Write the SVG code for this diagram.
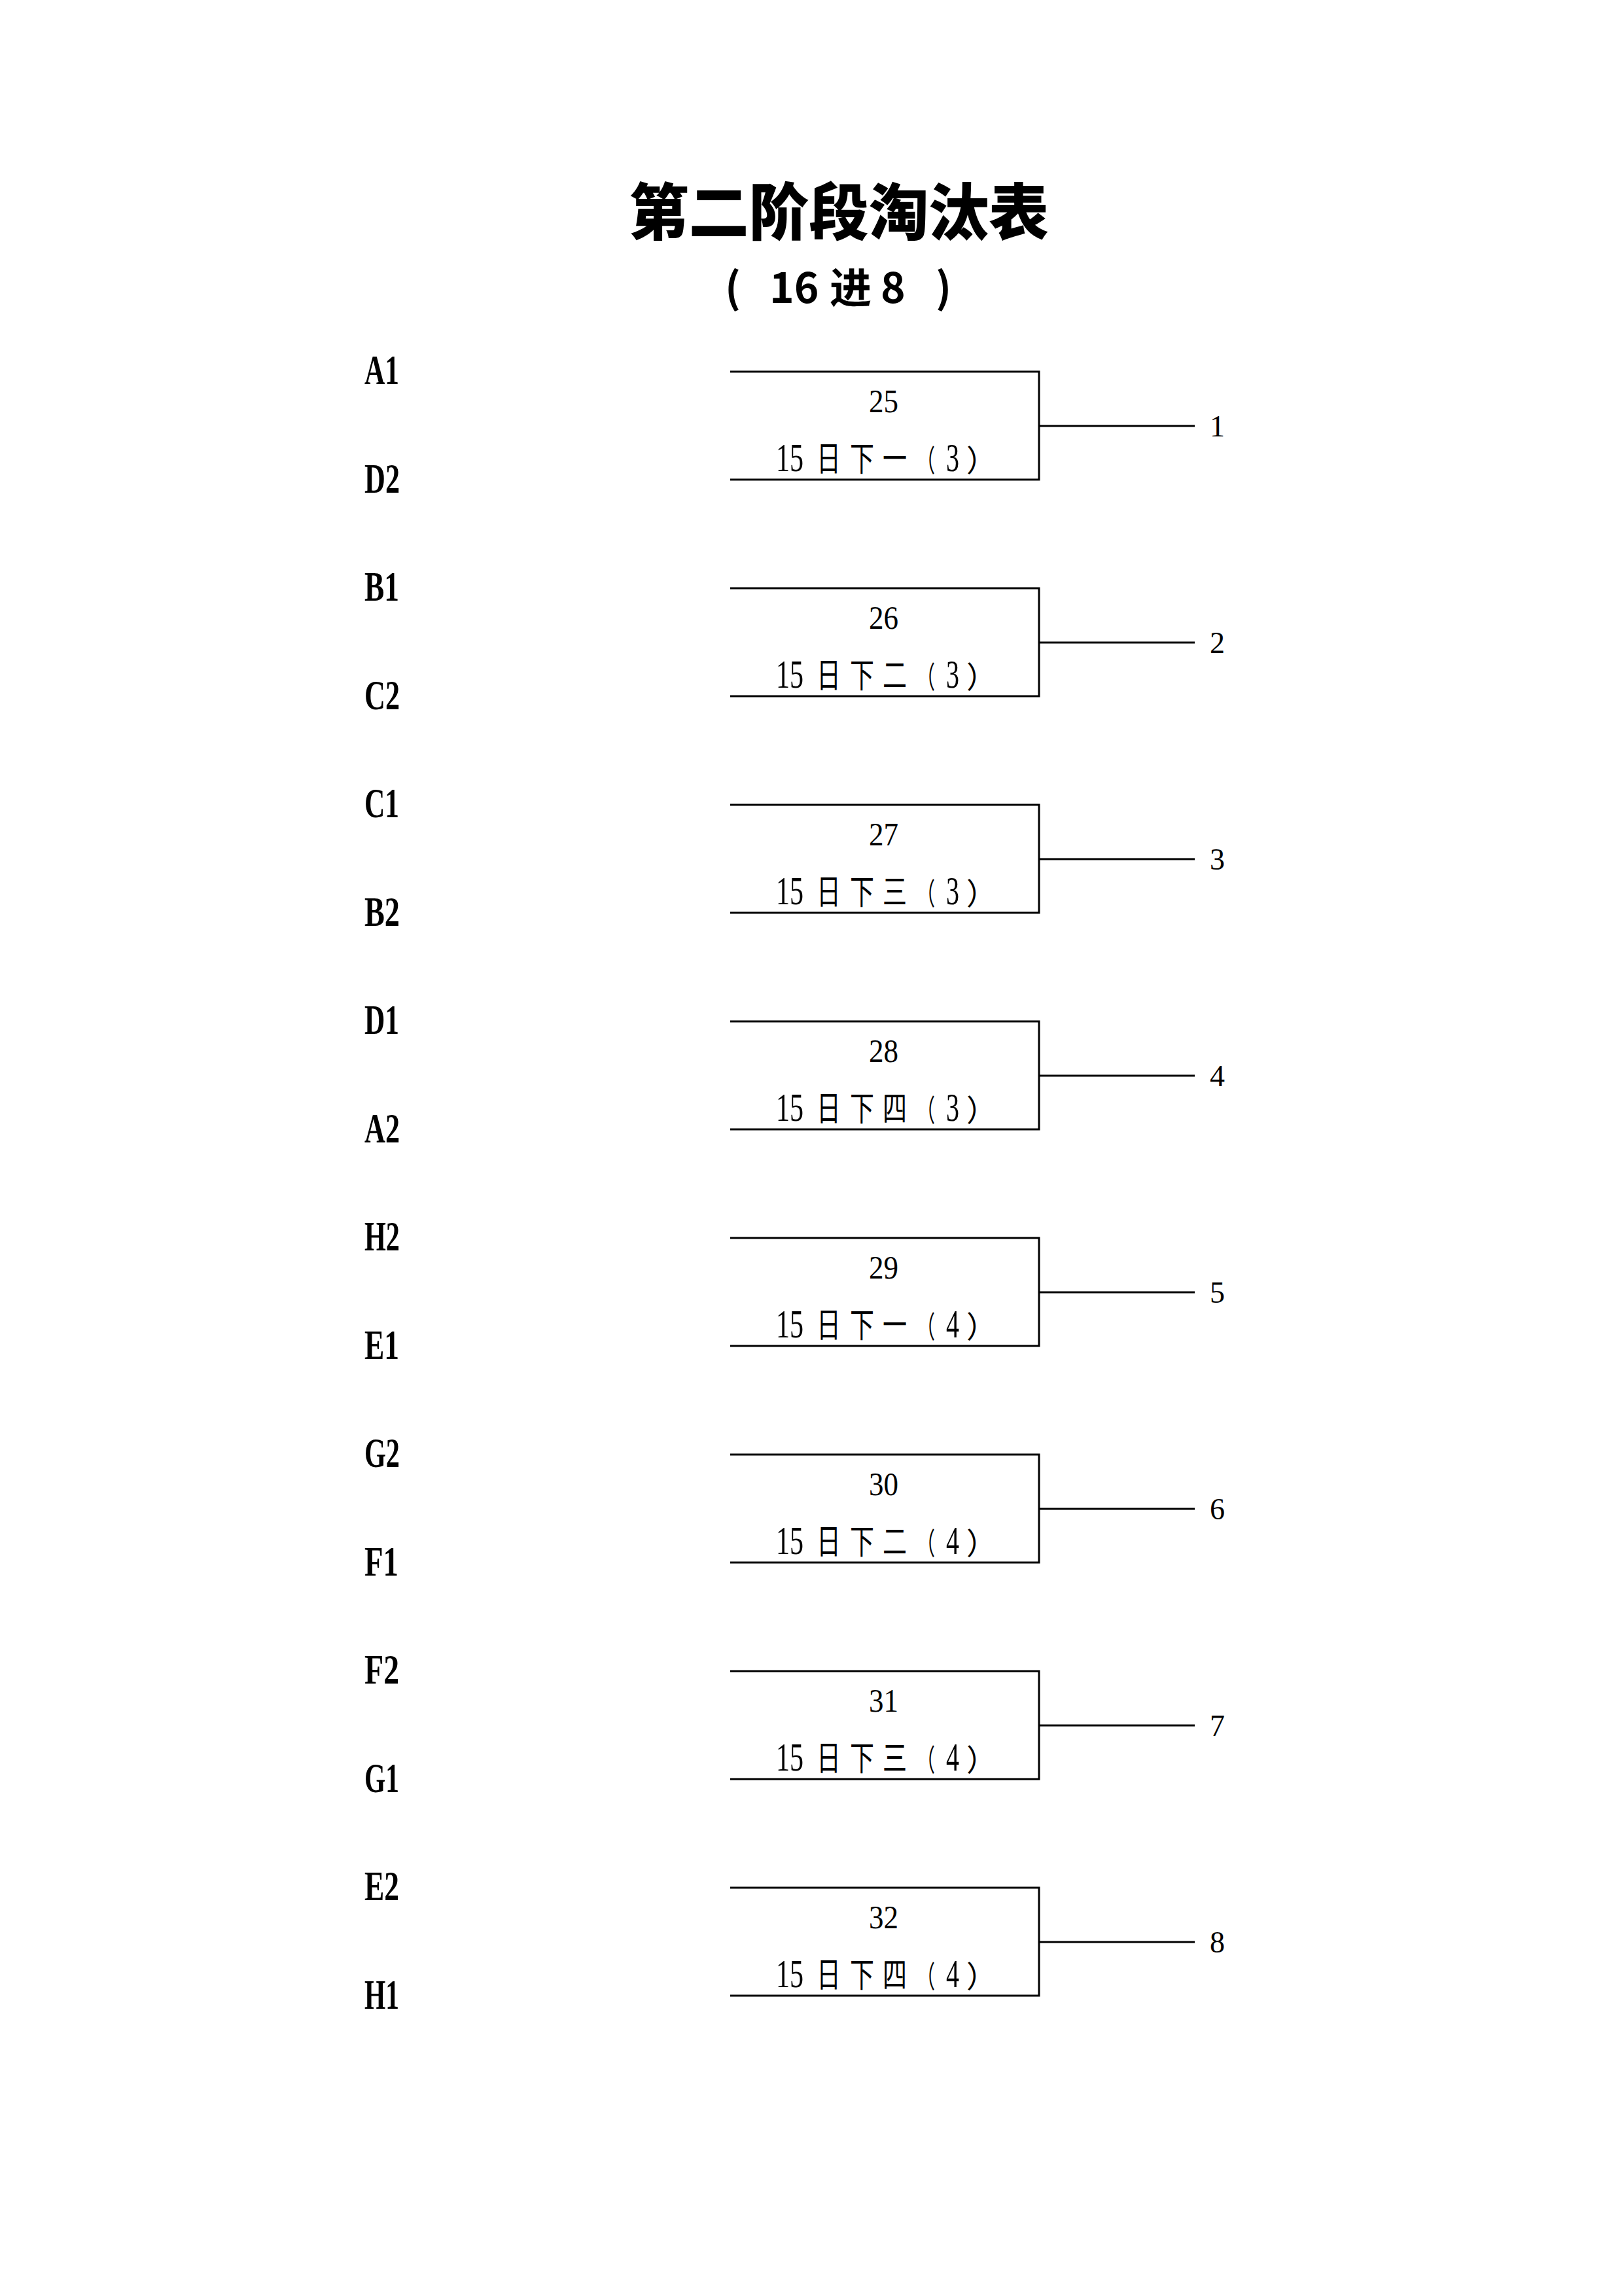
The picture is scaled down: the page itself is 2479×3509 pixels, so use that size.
<svg xmlns="http://www.w3.org/2000/svg" width="2479" height="3509" viewBox="0 0 2479 3509">
<style>
.title{font-family:"Noto Sans CJK SC",sans-serif;font-weight:900;font-size:94px;fill:#000}
.sub{font-family:"Noto Sans CJK SC",sans-serif;font-weight:700;font-size:64px;fill:#000}
.team{font-family:"Liberation Serif","Noto Sans CJK SC",serif;font-weight:700;font-size:63px;fill:#000}
.num{font-family:"Liberation Serif","Noto Sans CJK SC",serif;font-size:50px;fill:#000}
.date{font-family:"Liberation Serif","Noto Sans CJK SC",serif;font-size:62px;fill:#000}
.cjk{font-family:"Noto Sans CJK SC",sans-serif;font-size:52px}
.par{font-family:"Noto Sans CJK SC",sans-serif;font-size:46px}
.res{font-family:"Liberation Serif","Noto Sans CJK SC",serif;font-size:46px;fill:#000}
.ln{fill:none;stroke:#000;stroke-width:3}
</style>
<rect width="2479" height="3509" fill="#fff"/>
<g id="title">
<text class="title" x="1282" y="359" text-anchor="middle" textLength="642" lengthAdjust="spacingAndGlyphs">第二阶段淘汰表</text>
<text class="sub" y="463"><tspan x="1108">( </tspan><tspan x="1176">16</tspan><tspan x="1268">进</tspan><tspan x="1346">8 </tspan><tspan x="1430">)</tspan></text>
</g>
<g id="connectors">
<path class="ln" d="M1116,568H1588V733H1116M1588,651H1826"/>
<path class="ln" d="M1116,899H1588V1064H1116M1588,982H1826"/>
<path class="ln" d="M1116,1230H1588V1395H1116M1588,1313H1826"/>
<path class="ln" d="M1116,1561H1588V1726H1116M1588,1644H1826"/>
<path class="ln" d="M1116,1892H1588V2057H1116M1588,1975H1826"/>
<path class="ln" d="M1116,2223H1588V2388H1116M1588,2306H1826"/>
<path class="ln" d="M1116,2554H1588V2719H1116M1588,2637H1826"/>
<path class="ln" d="M1116,2885H1588V3050H1116M1588,2968H1826"/>
</g>
<g id="team-A1"><text class="team" x="557" y="587" textLength="53" lengthAdjust="spacingAndGlyphs">A1</text></g>
<g id="team-D2"><text class="team" x="557" y="753" textLength="54" lengthAdjust="spacingAndGlyphs">D2</text></g>
<g id="team-B1"><text class="team" x="557" y="918" textLength="53" lengthAdjust="spacingAndGlyphs">B1</text></g>
<g id="team-C2"><text class="team" x="557" y="1084" textLength="54" lengthAdjust="spacingAndGlyphs">C2</text></g>
<g id="team-C1"><text class="team" x="557" y="1249" textLength="53" lengthAdjust="spacingAndGlyphs">C1</text></g>
<g id="team-B2"><text class="team" x="557" y="1415" textLength="54" lengthAdjust="spacingAndGlyphs">B2</text></g>
<g id="team-D1"><text class="team" x="557" y="1580" textLength="53" lengthAdjust="spacingAndGlyphs">D1</text></g>
<g id="team-A2"><text class="team" x="557" y="1746" textLength="54" lengthAdjust="spacingAndGlyphs">A2</text></g>
<g id="team-H2"><text class="team" x="557" y="1911" textLength="54" lengthAdjust="spacingAndGlyphs">H2</text></g>
<g id="team-E1"><text class="team" x="557" y="2077" textLength="53" lengthAdjust="spacingAndGlyphs">E1</text></g>
<g id="team-G2"><text class="team" x="557" y="2242" textLength="54" lengthAdjust="spacingAndGlyphs">G2</text></g>
<g id="team-F1"><text class="team" x="557" y="2408" textLength="52" lengthAdjust="spacingAndGlyphs">F1</text></g>
<g id="team-F2"><text class="team" x="557" y="2573" textLength="53" lengthAdjust="spacingAndGlyphs">F2</text></g>
<g id="team-G1"><text class="team" x="557" y="2739" textLength="53" lengthAdjust="spacingAndGlyphs">G1</text></g>
<g id="team-E2"><text class="team" x="557" y="2904" textLength="53" lengthAdjust="spacingAndGlyphs">E2</text></g>
<g id="team-H1"><text class="team" x="557" y="3070" textLength="53" lengthAdjust="spacingAndGlyphs">H1</text></g>
<g id="match-25"><text class="num" x="1328" y="630" textLength="45" lengthAdjust="spacingAndGlyphs">25</text><text class="date" y="720"><tspan x="1186" textLength="42" lengthAdjust="spacingAndGlyphs">15</tspan> <tspan class="cjk" x="1248" textLength="37" lengthAdjust="spacingAndGlyphs">日</tspan><tspan class="cjk" x="1299" textLength="37" lengthAdjust="spacingAndGlyphs">下</tspan><tspan class="cjk" x="1349" textLength="37" lengthAdjust="spacingAndGlyphs">一</tspan><tspan class="par" x="1401" textLength="28" lengthAdjust="spacingAndGlyphs">（</tspan><tspan x="1446" textLength="20" lengthAdjust="spacingAndGlyphs">3</tspan><tspan class="par" x="1477">）</tspan></text></g>
<g id="match-26"><text class="num" x="1328" y="961" textLength="45" lengthAdjust="spacingAndGlyphs">26</text><text class="date" y="1051"><tspan x="1186" textLength="42" lengthAdjust="spacingAndGlyphs">15</tspan> <tspan class="cjk" x="1248" textLength="37" lengthAdjust="spacingAndGlyphs">日</tspan><tspan class="cjk" x="1299" textLength="37" lengthAdjust="spacingAndGlyphs">下</tspan><tspan class="cjk" x="1349" textLength="37" lengthAdjust="spacingAndGlyphs">二</tspan><tspan class="par" x="1401" textLength="28" lengthAdjust="spacingAndGlyphs">（</tspan><tspan x="1446" textLength="20" lengthAdjust="spacingAndGlyphs">3</tspan><tspan class="par" x="1477">）</tspan></text></g>
<g id="match-27"><text class="num" x="1328" y="1292" textLength="45" lengthAdjust="spacingAndGlyphs">27</text><text class="date" y="1382"><tspan x="1186" textLength="42" lengthAdjust="spacingAndGlyphs">15</tspan> <tspan class="cjk" x="1248" textLength="37" lengthAdjust="spacingAndGlyphs">日</tspan><tspan class="cjk" x="1299" textLength="37" lengthAdjust="spacingAndGlyphs">下</tspan><tspan class="cjk" x="1349" textLength="37" lengthAdjust="spacingAndGlyphs">三</tspan><tspan class="par" x="1401" textLength="28" lengthAdjust="spacingAndGlyphs">（</tspan><tspan x="1446" textLength="20" lengthAdjust="spacingAndGlyphs">3</tspan><tspan class="par" x="1477">）</tspan></text></g>
<g id="match-28"><text class="num" x="1328" y="1623" textLength="45" lengthAdjust="spacingAndGlyphs">28</text><text class="date" y="1713"><tspan x="1186" textLength="42" lengthAdjust="spacingAndGlyphs">15</tspan> <tspan class="cjk" x="1248" textLength="37" lengthAdjust="spacingAndGlyphs">日</tspan><tspan class="cjk" x="1299" textLength="37" lengthAdjust="spacingAndGlyphs">下</tspan><tspan class="cjk" x="1349" textLength="37" lengthAdjust="spacingAndGlyphs">四</tspan><tspan class="par" x="1401" textLength="28" lengthAdjust="spacingAndGlyphs">（</tspan><tspan x="1446" textLength="20" lengthAdjust="spacingAndGlyphs">3</tspan><tspan class="par" x="1477">）</tspan></text></g>
<g id="match-29"><text class="num" x="1328" y="1954" textLength="45" lengthAdjust="spacingAndGlyphs">29</text><text class="date" y="2044"><tspan x="1186" textLength="42" lengthAdjust="spacingAndGlyphs">15</tspan> <tspan class="cjk" x="1248" textLength="37" lengthAdjust="spacingAndGlyphs">日</tspan><tspan class="cjk" x="1299" textLength="37" lengthAdjust="spacingAndGlyphs">下</tspan><tspan class="cjk" x="1349" textLength="37" lengthAdjust="spacingAndGlyphs">一</tspan><tspan class="par" x="1401" textLength="28" lengthAdjust="spacingAndGlyphs">（</tspan><tspan x="1446" textLength="20" lengthAdjust="spacingAndGlyphs">4</tspan><tspan class="par" x="1477">）</tspan></text></g>
<g id="match-30"><text class="num" x="1328" y="2285" textLength="45" lengthAdjust="spacingAndGlyphs">30</text><text class="date" y="2375"><tspan x="1186" textLength="42" lengthAdjust="spacingAndGlyphs">15</tspan> <tspan class="cjk" x="1248" textLength="37" lengthAdjust="spacingAndGlyphs">日</tspan><tspan class="cjk" x="1299" textLength="37" lengthAdjust="spacingAndGlyphs">下</tspan><tspan class="cjk" x="1349" textLength="37" lengthAdjust="spacingAndGlyphs">二</tspan><tspan class="par" x="1401" textLength="28" lengthAdjust="spacingAndGlyphs">（</tspan><tspan x="1446" textLength="20" lengthAdjust="spacingAndGlyphs">4</tspan><tspan class="par" x="1477">）</tspan></text></g>
<g id="match-31"><text class="num" x="1328" y="2616" textLength="45" lengthAdjust="spacingAndGlyphs">31</text><text class="date" y="2706"><tspan x="1186" textLength="42" lengthAdjust="spacingAndGlyphs">15</tspan> <tspan class="cjk" x="1248" textLength="37" lengthAdjust="spacingAndGlyphs">日</tspan><tspan class="cjk" x="1299" textLength="37" lengthAdjust="spacingAndGlyphs">下</tspan><tspan class="cjk" x="1349" textLength="37" lengthAdjust="spacingAndGlyphs">三</tspan><tspan class="par" x="1401" textLength="28" lengthAdjust="spacingAndGlyphs">（</tspan><tspan x="1446" textLength="20" lengthAdjust="spacingAndGlyphs">4</tspan><tspan class="par" x="1477">）</tspan></text></g>
<g id="match-32"><text class="num" x="1328" y="2947" textLength="45" lengthAdjust="spacingAndGlyphs">32</text><text class="date" y="3037"><tspan x="1186" textLength="42" lengthAdjust="spacingAndGlyphs">15</tspan> <tspan class="cjk" x="1248" textLength="37" lengthAdjust="spacingAndGlyphs">日</tspan><tspan class="cjk" x="1299" textLength="37" lengthAdjust="spacingAndGlyphs">下</tspan><tspan class="cjk" x="1349" textLength="37" lengthAdjust="spacingAndGlyphs">四</tspan><tspan class="par" x="1401" textLength="28" lengthAdjust="spacingAndGlyphs">（</tspan><tspan x="1446" textLength="20" lengthAdjust="spacingAndGlyphs">4</tspan><tspan class="par" x="1477">）</tspan></text></g>
<g id="result-1"><text class="res" x="1849" y="667">1</text></g>
<g id="result-2"><text class="res" x="1849" y="998">2</text></g>
<g id="result-3"><text class="res" x="1849" y="1329">3</text></g>
<g id="result-4"><text class="res" x="1849" y="1660">4</text></g>
<g id="result-5"><text class="res" x="1849" y="1991">5</text></g>
<g id="result-6"><text class="res" x="1849" y="2322">6</text></g>
<g id="result-7"><text class="res" x="1849" y="2653">7</text></g>
<g id="result-8"><text class="res" x="1849" y="2984">8</text></g>
</svg>
